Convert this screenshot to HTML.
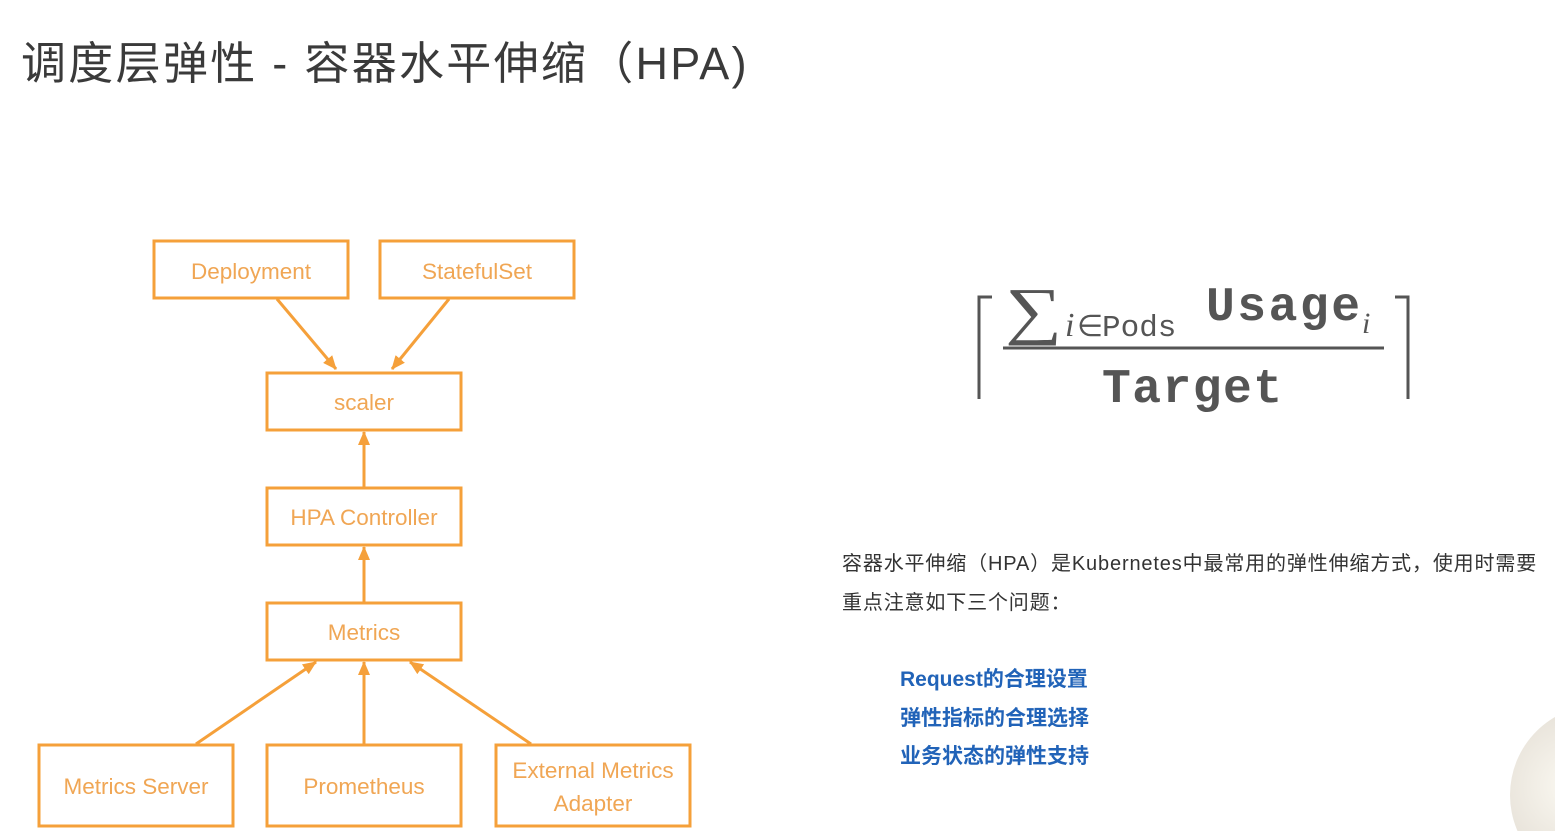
<!DOCTYPE html>
<html><head><meta charset="utf-8"><style>
html,body{margin:0;padding:0;background:#fff;overflow:hidden;width:1555px;height:831px;}
body{position:relative;font-family:"Liberation Sans","Noto Sans CJK SC",sans-serif;}
.t{position:absolute;white-space:nowrap;}
svg{display:block;}
</style></head><body>
<div class="t" style="left:21px;top:36px;font-size:45px;color:#3a3a3a;letter-spacing:2.3px;line-height:56px;">调度层弹性 - 容器水平伸缩（HPA)</div>

<svg width="1555" height="831" style="position:absolute;left:0;top:0">
<defs>
<marker id="b" markerWidth="14" markerHeight="12" refX="13" refY="6" orient="auto" markerUnits="userSpaceOnUse"><path d="M0,0 L14,6 L0,12 Z" fill="#f5a03a"/></marker>
<radialGradient id="g" cx="0.35" cy="0.45" r="0.7"><stop offset="0" stop-color="#fbf9f2"/><stop offset="0.6" stop-color="#e8e3da"/><stop offset="1" stop-color="#a9a39a"/></radialGradient></defs>
<g fill="none" stroke="#f5a03a" stroke-width="3">
<rect x="154" y="241" width="194" height="57"/>
<rect x="380" y="241" width="194" height="57"/>
<rect x="267" y="373" width="194" height="57"/>
<rect x="267" y="488" width="194" height="57"/>
<rect x="267" y="603" width="194" height="57"/>
<rect x="39" y="745" width="194" height="81"/>
<rect x="267" y="745" width="194" height="81"/>
<rect x="496" y="745" width="194" height="81"/>
<line x1="277" y1="299" x2="336" y2="369" marker-end="url(#b)"/>
<line x1="449" y1="299" x2="392" y2="369" marker-end="url(#b)"/>
<line x1="364" y1="487" x2="364" y2="432" marker-end="url(#b)"/>
<line x1="364" y1="602" x2="364" y2="547" marker-end="url(#b)"/>
<line x1="196" y1="744" x2="316" y2="662" marker-end="url(#b)"/>
<line x1="364" y1="744" x2="364" y2="662" marker-end="url(#b)"/>
<line x1="531" y1="744" x2="410" y2="662" marker-end="url(#b)"/>
</g>
<g fill="#f0a654" font-size="22.5" text-anchor="middle" font-family="Liberation Sans, sans-serif">
<text x="251" y="279">Deployment</text>
<text x="477" y="279">StatefulSet</text>
<text x="364" y="410">scaler</text>
<text x="364" y="525">HPA Controller</text>
<text x="364" y="640">Metrics</text>
<text x="136" y="794">Metrics Server</text>
<text x="364" y="794">Prometheus</text>
<text x="593" y="778">External Metrics</text>
<text x="593" y="811">Adapter</text>
</g>
<g stroke="#555" stroke-width="3" fill="none">
<polyline points="979,399 979,297 992,297"/>
<polyline points="1395,297 1408,297 1408,399"/>
<line x1="1003" y1="348" x2="1384" y2="348" stroke-width="3"/>
</g>
<g fill="#555" font-family="Liberation Serif, serif">
<text x="1005" y="332" font-size="80" transform="translate(1005 332) scale(1 0.8) translate(-1005 -332)">∑</text>
<text x="1065" y="336" font-size="34" font-style="italic">i</text>
<text x="1077" y="336" font-size="30">∈</text>
<text x="1102" y="336" font-size="31" font-family="Liberation Mono, monospace">Pods</text>
<text x="1206" y="320" font-size="48" font-family="Liberation Mono, monospace" font-weight="bold" textLength="154">Usage</text>
<text x="1362" y="333" font-size="30" font-style="italic">i</text>
<text x="1102" y="402" font-size="48" font-family="Liberation Mono, monospace" font-weight="bold" textLength="180">Target</text>
</g>
<circle cx="1600" cy="795" r="90" fill="url(#g)"/>
</svg>

<div class="t" style="left:842px;top:552px;font-size:20px;letter-spacing:0.85px;color:#333;line-height:24px;">容器水平伸缩（HPA）是Kubernetes中最常用的弹性伸缩方式，使用时需要</div>
<div class="t" style="left:842px;top:591px;font-size:20px;letter-spacing:0.85px;color:#333;line-height:24px;">重点注意如下三个问题：</div>
<div class="t" style="left:900px;top:668px;font-size:21px;color:#2163b8;font-weight:bold;line-height:24px;">Request的合理设置</div>
<div class="t" style="left:900px;top:707px;font-size:21px;color:#2163b8;font-weight:bold;line-height:24px;">弹性指标的合理选择</div>
<div class="t" style="left:900px;top:745px;font-size:21px;color:#2163b8;font-weight:bold;line-height:24px;">业务状态的弹性支持</div>
</body></html>
